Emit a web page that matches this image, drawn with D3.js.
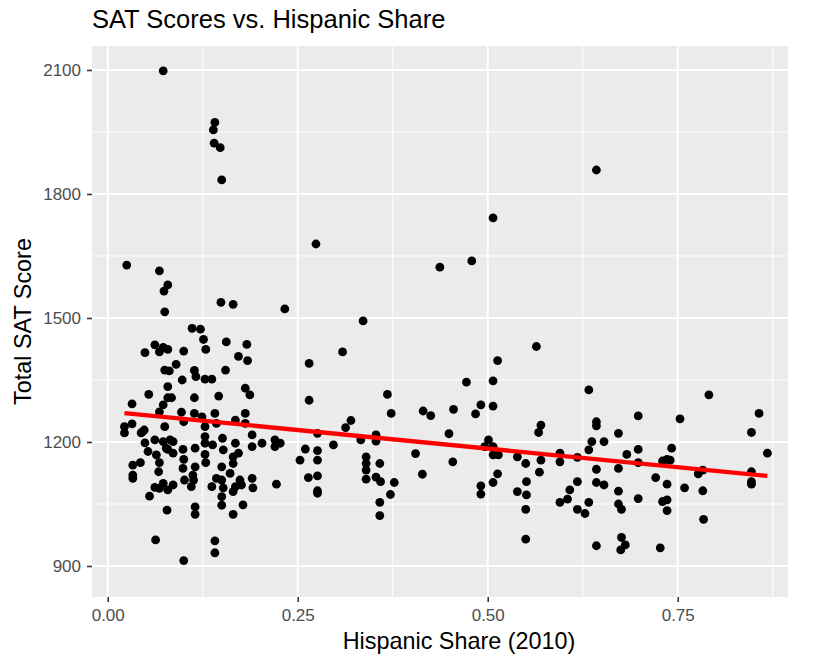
<!DOCTYPE html>
<html>
<head>
<meta charset="utf-8">
<script src="https://cdn.jsdelivr.net/npm/d3@7"></script>
<style>
  body { margin: 0; background: #fff; }
  text { font-family: "Liberation Sans", Arial, Helvetica, sans-serif; }
</style>
</head>
<body>
<div id="chart"></div>
<script>
// Hispanic share (2010) of each state / point
var share = [
  0.025, 0.022, 0.022, 0.032, 0.032, 0.033, 0.033, 0.033, 0.043, 0.044,
  0.048, 0.049, 0.049, 0.054, 0.053, 0.055, 0.062, 0.068, 0.073, 0.079,
  0.068, 0.079, 0.074, 0.075, 0.073, 0.063, 0.100, 0.090, 0.075, 0.081,
  0.098, 0.079, 0.079, 0.084, 0.073, 0.068, 0.097, 0.100, 0.075, 0.046,
  0.062, 0.064, 0.068, 0.067, 0.073, 0.077, 0.086, 0.086, 0.079, 0.062,
  0.068, 0.073, 0.079, 0.086, 0.078, 0.099, 0.100, 0.099, 0.101, 0.115,
  0.115, 0.112, 0.110, 0.115, 0.115, 0.113, 0.114, 0.124, 0.141, 0.143,
  0.168, 0.181, 0.181, 0.082, 0.128, 0.128, 0.128, 0.128, 0.129, 0.138,
  0.151, 0.152, 0.168, 0.165, 0.172, 0.165, 0.150, 0.190, 0.190, 0.203,
  0.220, 0.220, 0.137, 0.143, 0.150, 0.152, 0.150, 0.161, 0.168, 0.165,
  0.174, 0.176, 0.190, 0.191, 0.222, 0.150, 0.178, 0.165, 0.141, 0.141,
  0.149, 0.165, 0.111, 0.122, 0.126, 0.129, 0.156, 0.183, 0.172, 0.184,
  0.100, 0.114, 0.116, 0.128, 0.137, 0.155, 0.181, 0.187, 0.146, 0.114,
  0.233, 0.141, 0.139, 0.140, 0.148, 0.150,
  0.336, 0.309, 0.265, 0.265, 0.368, 0.373, 0.415, 0.425, 0.455, 0.472,
  0.491, 0.484, 0.507, 0.513, 0.507, 0.449, 0.454, 0.227, 0.276, 0.260,
  0.253, 0.276, 0.276, 0.264, 0.276, 0.276, 0.276, 0.297, 0.313, 0.320,
  0.333, 0.340, 0.340, 0.340, 0.340, 0.353, 0.353, 0.358, 0.353, 0.359,
  0.377, 0.372, 0.358, 0.358, 0.405, 0.414, 0.501, 0.496, 0.507, 0.507,
  0.514, 0.513, 0.507, 0.491, 0.491, 0.539, 0.550, 0.551, 0.539, 0.551,
  0.550, 0.550, 0.274, 0.437, 0.479, 0.507, 0.643,
  0.564, 0.633, 0.791, 0.570, 0.567, 0.570, 0.568, 0.595, 0.595, 0.618,
  0.618, 0.608, 0.605, 0.595, 0.618, 0.628, 0.633, 0.643, 0.643, 0.637,
  0.633, 0.653, 0.643, 0.643, 0.653, 0.643, 0.672, 0.683, 0.672, 0.672,
  0.672, 0.676, 0.676, 0.681, 0.675, 0.698, 0.698, 0.698, 0.698, 0.753,
  0.742, 0.730, 0.736, 0.740, 0.721, 0.736, 0.759, 0.730, 0.736, 0.736,
  0.727, 0.777, 0.783, 0.783, 0.784, 0.847, 0.857, 0.868, 0.847, 0.847,
  0.847
];
// Total SAT score, same order as share
var score = [
  1628, 1237, 1222, 1292, 1244, 1144, 1120, 1112, 1150, 1222,
  1229, 1198, 1416, 1315, 1177, 1069, 1435, 1418, 1429, 1424,
  1614, 1580, 1565, 1515, 2098, 963, 913, 1388, 1374, 1372,
  1350, 1334, 1307, 1307, 1290, 1273, 1272, 1249, 1237, 1225,
  1205, 1169, 1150, 1128, 1201, 1185, 1201, 1173, 1182, 1090,
  1088, 1100, 1084, 1096, 1035, 1182, 1158, 1136, 1108, 1185,
  1140, 1120, 1092, 1043, 1025, 1108, 1269, 1261, 1269, 1245,
  1253, 1269, 1245, 1205, 1237, 1213, 1197, 1170, 1150, 1193,
  1209, 1181, 1197, 1164, 1173, 1148, 1140, 1217, 1189, 1197,
  1205, 1189, 1092, 1112, 1108, 1089, 1068, 1124, 1092, 1080,
  1108, 1096, 1112, 1089, 1098, 1047, 1048, 1025, 961, 932,
  1538, 1533, 1475, 1473, 1448, 1424, 1442, 1436, 1407, 1397,
  1420, 1373, 1358, 1352, 1352, 1374, 1330, 1314, 1311, 1307,
  1522, 1973, 1955, 1923, 1912, 1834,
  1493, 1418, 1390, 1301, 1315, 1269, 1275, 1264, 1279, 1345,
  1290, 1268, 1348, 1397, 1287, 1220, 1152, 1197, 1221, 1183,
  1156, 1179, 1156, 1114, 1118, 1082, 1076, 1193, 1235, 1252,
  1205, 1164, 1148, 1132, 1110, 1217, 1202, 1148, 1115, 1104,
  1102, 1073, 1054, 1022, 1172, 1122, 1205, 1189, 1189, 1169,
  1169, 1123, 1102, 1094, 1074, 1164, 1148, 1104, 1080, 1072,
  1037, 965, 1679, 1623, 1638, 1742, 1858,
  1431, 1326, 1314, 1241, 1223, 1156, 1127, 1173, 1152, 1163,
  1104, 1084, 1062, 1054, 1037, 1027, 1054, 1249, 1239, 1201,
  1181, 1201, 1134, 1102, 1096, 949, 1221, 1170, 1136, 1081,
  1050, 1037, 969, 951, 939, 1263, 1182, 1150, 1063, 1256,
  1185, 1154, 1158, 1156, 1114, 1098, 1089, 1056, 1060, 1034,
  944, 1123, 1132, 1082, 1013, 1223, 1269, 1173, 1128, 1104,
  1098
];
// linear fit (geom_smooth, method = "lm") end points
var fitShare = [0.022, 0.868];
var fitScore = [1270, 1118];

var xTicks = [0, 0.25, 0.5, 0.75];
var xMinor = [0.125, 0.375, 0.625, 0.875];
var yTicks = [900, 1200, 1500, 1800, 2100];
var yMinor = [1050, 1350, 1650, 1950];

var W = 813, H = 656;
var panel = {left: 92, right: 788, top: 46, bottom: 597};

var svg = d3.select("#chart").append("svg")
    .attr("width", W)
    .attr("height", H);

var x = d3.scaleLinear()
    .domain([-0.0207, 0.8951])
    .range([panel.left, panel.right]);

var y = d3.scaleLinear()
    .domain([825, 2158])
    .range([panel.bottom, panel.top]);

// panel background
svg.append("rect")
    .attr("x", panel.left)
    .attr("y", panel.top)
    .attr("width", panel.right - panel.left)
    .attr("height", panel.bottom - panel.top)
    .attr("fill", "#EBEBEB");

// grid, minor first
var grid = svg.append("g");
grid.selectAll(".xminor").data(xMinor).enter().append("line")
    .attr("x1", d => x(d)).attr("x2", d => x(d))
    .attr("y1", panel.top).attr("y2", panel.bottom)
    .attr("stroke", "#fff").attr("stroke-width", 1);
grid.selectAll(".yminor").data(yMinor).enter().append("line")
    .attr("y1", d => y(d)).attr("y2", d => y(d))
    .attr("x1", panel.left).attr("x2", panel.right)
    .attr("stroke", "#fff").attr("stroke-width", 1);
grid.selectAll(".xmajor").data(xTicks).enter().append("line")
    .attr("x1", d => x(d)).attr("x2", d => x(d))
    .attr("y1", panel.top).attr("y2", panel.bottom)
    .attr("stroke", "#fff").attr("stroke-width", 2);
grid.selectAll(".ymajor").data(yTicks).enter().append("line")
    .attr("y1", d => y(d)).attr("y2", d => y(d))
    .attr("x1", panel.left).attr("x2", panel.right)
    .attr("stroke", "#fff").attr("stroke-width", 2);

// points
var pts = d3.zip(share, score);
svg.append("g").selectAll("circle")
    .data(pts)
    .enter().append("circle")
    .attr("cx", d => x(d[0]))
    .attr("cy", d => y(d[1]))
    .attr("r", 4.4)
    .attr("fill", "#000");

// fitted line
svg.append("path")
    .datum(d3.zip(fitShare, fitScore))
    .attr("d", d3.line().x(d => x(d[0])).y(d => y(d[1])))
    .attr("fill", "none")
    .attr("stroke", "#FF0000")
    .attr("stroke-width", 4.3);

// axes
var xAxis = svg.append("g")
    .attr("transform", "translate(0," + panel.bottom + ")")
    .call(d3.axisBottom(x).tickValues(xTicks).tickFormat(d3.format(".2f"))
        .tickSize(5).tickSizeOuter(0).tickPadding(7));

var yAxis = svg.append("g")
    .attr("transform", "translate(" + panel.left + ",0)")
    .call(d3.axisLeft(y).tickValues(yTicks).tickFormat(d3.format("d"))
        .tickSize(5).tickSizeOuter(0).tickPadding(6));

[xAxis, yAxis].forEach(function (a) {
    a.select(".domain").remove();
    a.selectAll("line").attr("stroke", "#333333").attr("stroke-width", 1.6);
    a.selectAll("text")
        .attr("fill", "#4D4D4D")
        .style("font-size", "17px")
        .style("font-family", "'Liberation Sans', Arial, Helvetica, sans-serif");
});

// titles
svg.append("text")
    .attr("x", panel.left)
    .attr("y", 28)
    .style("font-size", "25.5px")
    .attr("fill", "#000")
    .text("SAT Scores vs. Hispanic Share");

svg.append("text")
    .attr("x", 459)
    .attr("y", 649)
    .attr("text-anchor", "middle")
    .style("font-size", "23.4px")
    .attr("fill", "#000")
    .text("Hispanic Share (2010)");

svg.append("text")
    .attr("transform", "translate(31," + (panel.top + panel.bottom) / 2 + ") rotate(-90)")
    .attr("text-anchor", "middle")
    .style("font-size", "23.4px")
    .attr("fill", "#000")
    .text("Total SAT Score");
</script>
</body>
</html>
